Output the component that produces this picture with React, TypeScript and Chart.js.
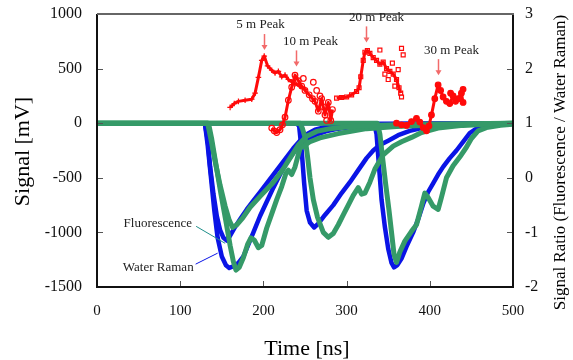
import React, { useEffect, useRef } from 'react';
import { Chart, registerables } from 'chart.js';

Chart.register(...registerables);

const FONT = '"Liberation Serif", "Times New Roman", serif';
const BLUE = '#0a14e6';
const GREEN = '#359a68';
const RED = '#ff0a0a';

const xTicks = [0, 100, 200, 300, 400, 500];
const yTicks = [-1500, -1000, -500, 0, 500, 1000];
const y2Ticks = [-2, -1, 0, 1, 2, 3];

// Water Raman signals [time ns, mV]
const raman5m = [[0, 0], [128, 0], [130, -20], [133, -150], [136, -400], [140, -650], [144, -850], [148, -980], [152, -1050], [156, -1075], [160, -1030], [166, -950], [172, -880], [180, -790], [188, -710], [196, -630], [204, -550], [212, -470], [220, -390], [228, -310], [236, -230], [244, -160], [252, -100], [262, -60], [275, -35], [290, -20], [310, -10], [340, -5], [500, 0]];
const raman10m = [[0, 0], [128, 0], [130, -20], [133, -200], [137, -500], [141, -800], [145, -1050], [150, -1220], [155, -1300], [159, -1325], [164, -1310], [170, -1280], [176, -1220], [182, -1110], [188, -1000], [196, -850], [204, -720], [212, -590], [220, -470], [228, -360], [236, -270], [244, -200], [252, -150], [262, -110], [275, -75], [290, -50], [310, -30], [340, -15], [380, -5], [500, 0]];
const raman20m = [[0, 0], [240, 0], [243, -30], [246, -250], [249, -550], [252, -800], [256, -910], [261, -955], [266, -920], [274, -840], [284, -750], [294, -640], [304, -540], [314, -430], [324, -320], [332, -250], [340, -200], [350, -160], [362, -110], [376, -70], [390, -45], [420, -20], [460, -8], [500, 0]];
const raman30m = [[0, 0], [333, 0], [336, -100], [339, -400], [342, -700], [346, -950], [350, -1150], [354, -1280], [357, -1320], [361, -1300], [366, -1240], [372, -1130], [380, -1000], [386, -880], [392, -740], [398, -630], [404, -550], [410, -470], [416, -400], [424, -320], [432, -250], [440, -170], [448, -90], [456, -50], [464, -35], [480, -15], [500, -5]];

// Fluorescence signals [time ns, mV]
const fluo5m = [[0, 0], [133, 0], [137, -150], [142, -350], [148, -570], [154, -760], [159, -890], [163, -955], [168, -930], [175, -870], [184, -770], [196, -670], [211, -550], [222, -440], [232, -320], [242, -200], [252, -120], [264, -75], [280, -50], [300, -35], [330, -20], [380, -10], [500, 0]];
const fluo10m = [[0, 0], [134, 0], [138, -150], [143, -380], [149, -650], [155, -900], [160, -1120], [164, -1270], [167, -1345], [171, -1320], [176, -1230], [181, -1110], [185, -1050], [189, -1070], [194, -1140], [198, -1120], [204, -960], [210, -830], [216, -700], [222, -580], [227, -460], [230, -430], [234, -470], [238, -400], [244, -230], [256, -170], [268, -135], [290, -95], [324, -50], [360, -30], [420, -12], [500, 0]];
const fluo20m = [[0, 0], [244, 0], [247, -50], [250, -130], [253, -300], [256, -500], [260, -700], [265, -860], [272, -1000], [278, -1045], [284, -1010], [290, -930], [296, -840], [302, -750], [308, -660], [314, -590], [318, -650], [322, -640], [328, -540], [334, -420], [344, -290], [356, -210], [366, -170], [378, -130], [390, -85], [410, -45], [440, -20], [480, -5], [500, 0]];
const fluo30m = [[0, 0], [337, 0], [340, -100], [343, -300], [347, -560], [351, -800], [354, -1000], [357, -1200], [360, -1275], [364, -1180], [370, -1080], [378, -990], [384, -930], [390, -760], [394, -640], [398, -680], [404, -760], [410, -790], [414, -680], [420, -500], [428, -390], [436, -310], [444, -220], [450, -140], [458, -70], [468, -40], [485, -20], [500, -10]];

// Signal ratio (Fluorescence / Water Raman) [time ns, ratio]
const ratio5m = [[160, 1.29], [165, 1.36], [170, 1.4], [178, 1.42], [186, 1.44], [190, 1.55], [194, 1.84], [198, 2.15], [201, 2.23], [205, 2.05], [210, 1.97], [214, 1.92], [218, 1.95], [222, 1.85], [226, 1.88], [230, 1.8], [234, 1.76], [238, 1.72], [244, 1.68], [250, 1.62]];
const ratio10m = [[210, 0.91], [213, 0.86], [216, 0.83], [220, 0.88], [223, 0.97], [226, 1.11], [230, 1.42], [234, 1.66], [238, 1.88], [242, 1.78], [246, 1.68], [250, 1.6], [255, 1.52], [259, 1.45], [262, 1.4], [266, 1.22], [270, 1.45], [274, 1.15], [278, 1.38], [281, 1.05], [283, 1.25]];
const ratio10mExtra = [[248, 1.82], [260, 1.75], [268, 1.5], [276, 1.05], [272, 1.3], [264, 1.6]];
const ratio20m = [[288, 1.46], [294, 1.47], [300, 1.48], [306, 1.52], [312, 1.58], [315, 1.65], [317, 1.85], [320, 2.15], [322, 2.3], [325, 2.33], [328, 2.28], [332, 2.2], [336, 2.15], [340, 2.08], [344, 2.12], [348, 2.0], [352, 1.95], [356, 1.9], [360, 1.8], [363, 1.65], [365, 1.55]];
const ratio20mExtra = [[340, 2.34], [366, 2.37], [368, 2.25], [366, 1.48], [358, 1.68], [350, 1.8], [346, 1.9], [362, 1.98], [355, 2.1]];
const ratio30m = [[360, 1.0], [366, 0.97], [372, 0.96], [378, 1.03], [384, 1.09], [388, 1.02], [392, 0.92], [396, 0.86], [399, 0.95], [402, 1.15], [406, 1.45], [410, 1.7], [413, 1.6], [416, 1.48], [420, 1.4], [424, 1.36], [428, 1.5], [431, 1.4], [434, 1.45], [438, 1.55], [440, 1.38]];
const ratio30mExtra = [[440, 1.62], [425, 1.55]];

// Peak annotations
const peakLabels = ['5 m Peak', '10 m Peak', '20 m Peak', '30 m Peak'];
const peakTimes = [201, 239, 323, 410];
const peakRatios = [2.34, 2.04, 2.48, 1.88];

const calloutLabels = ['Fluorescence', 'Water Raman'];
const calloutTimes = [154, 145];
const calloutSignals = [-1100, -1190];

const toPts = (arr: number[][]) => arr.map(([x, y]) => ({ x, y }));

const sig = (arr: number[][], color: string, order: number, width: number) => ({
  data: toPts(arr),
  yAxisID: 'y',
  showLine: true,
  borderColor: color,
  backgroundColor: color,
  borderWidth: width,
  pointRadius: 0,
  borderJoinStyle: 'round',
  borderCapStyle: 'round',
  order,
});

const rat = (arr: number[][], style: string, filled: boolean, line: boolean) => ({
  data: toPts(arr),
  yAxisID: 'y2',
  showLine: line,
  borderColor: RED,
  backgroundColor: filled ? RED : 'rgba(255,255,255,0)',
  borderWidth: 3,
  pointStyle: style,
  pointRadius: 2.8,
  pointBorderColor: RED,
  pointBackgroundColor: filled ? RED : 'rgba(255,255,255,0)',
  pointBorderWidth: 1.2,
  borderJoinStyle: 'round',
  order: 0,
});

const zeroPad = (s: any) => {
  s.paddingTop = 0;
  s.paddingBottom = 0;
  s.paddingLeft = 0;
  s.paddingRight = 0;
};

const overlay = {
  id: 'overlay',
  afterDraw(chart: any) {
    const { ctx, chartArea: a, scales } = chart;
    const sx = scales.x, sy = scales.y, sy2 = scales.y2;
    ctx.save();
    const seg = (x1: number, y1: number, x2: number, y2: number) => {
      ctx.beginPath(); ctx.moveTo(x1, y1); ctx.lineTo(x2, y2); ctx.stroke();
    };
    // inside tick marks
    ctx.strokeStyle = '#555';
    ctx.lineWidth = 1;
    xTicks.forEach((v) => { const p = Math.round(sx.getPixelForValue(v)) + 0.5; seg(p, a.bottom, p, a.bottom - 6); });
    yTicks.forEach((v) => { const p = Math.round(sy.getPixelForValue(v)) + 0.5; seg(a.left, p, a.left + 6, p); });
    y2Ticks.forEach((v) => { const p = Math.round(sy2.getPixelForValue(v)) + 0.5; seg(a.right, p, a.right - 6, p); });
    // frame
    ctx.strokeStyle = '#111';
    ctx.lineWidth = 2;
    seg(a.left, a.top, a.left, a.bottom + 1);
    seg(a.left - 1, a.bottom, a.right + 1, a.bottom);
    seg(a.right, a.top, a.right, a.bottom);
    ctx.strokeStyle = '#666';
    seg(a.left, a.top, a.right + 1, a.top);

    // axis titles
    ctx.fillStyle = '#000';
    ctx.textAlign = 'center';
    ctx.textBaseline = 'middle';
    ctx.font = `22px ${FONT}`;
    ctx.fillText('Time [ns]', (a.left + a.right) / 2 + 2, 349);
    ctx.save();
    ctx.translate(23, (a.top + a.bottom) / 2 + 1);
    ctx.rotate(-Math.PI / 2);
    ctx.fillText('Signal [mV]', 0, 0);
    ctx.restore();
    ctx.save();
    ctx.font = `17px ${FONT}`;
    ctx.translate(561, (a.top + a.bottom) / 2 + 12);
    ctx.rotate(-Math.PI / 2);
    ctx.fillText('Signal Ratio (Fluorescence / Water Raman)', 0, 0);
    ctx.restore();

    // peak annotations
    const dxs = [-4, 14, 10, 13];
    ctx.font = `13px ${FONT}`;
    peakLabels.forEach((label, i) => {
      const px = Math.round(sx.getPixelForValue(peakTimes[i])) + 0.5;
      const py = sy2.getPixelForValue(peakRatios[i]);
      ctx.strokeStyle = '#f26a6a';
      ctx.fillStyle = '#f26a6a';
      ctx.lineWidth = 1.5;
      seg(px, py - 16, px, py - 4);
      ctx.beginPath();
      ctx.moveTo(px - 3, py - 5);
      ctx.lineTo(px + 3, py - 5);
      ctx.lineTo(px, py);
      ctx.closePath();
      ctx.fill();
      ctx.fillStyle = '#222';
      ctx.textAlign = 'center';
      ctx.fillText(label, px + dxs[i], py - 25);
    });

    // series callouts
    const calloutColors = ['#1f8f8a', BLUE];
    const textOffX = [-33, -24];
    const textOffY = [-20, 14];
    const lineStartX = [-29, -22];
    const lineStartY = [-17, 11];
    calloutLabels.forEach((label, i) => {
      const px = sx.getPixelForValue(calloutTimes[i]);
      const py = sy.getPixelForValue(calloutSignals[i]);
      ctx.strokeStyle = calloutColors[i];
      ctx.lineWidth = 1;
      seg(px + lineStartX[i], py + lineStartY[i], px, py);
      ctx.fillStyle = '#222';
      ctx.textAlign = 'right';
      ctx.fillText(label, px + textOffX[i], py + textOffY[i]);
    });
    ctx.restore();
  },
};

export default function App() {
  const ref = useRef<HTMLCanvasElement>(null);
  useEffect(() => {
    const canvas = ref.current;
    if (!canvas) return;
    const tickFont = { family: FONT, size: 15 };
    const plain = (v: any) => String(v);
    const chart = new Chart(canvas, {
      type: 'scatter',
      data: {
        datasets: [
          rat(ratio5m, 'cross', false, true),
          rat(ratio10m, 'circle', false, true),
          rat(ratio10mExtra, 'circle', false, false),
          rat(ratio20m, 'rect', false, true),
          rat(ratio20mExtra, 'rect', false, false),
          rat(ratio30m, 'circle', true, true),
          rat(ratio30mExtra, 'circle', true, false),
          sig(fluo5m, GREEN, 1, 5),
          sig(fluo10m, GREEN, 1, 5),
          sig(fluo20m, GREEN, 1, 5),
          sig(fluo30m, GREEN, 1, 5),
          sig(raman5m, BLUE, 2, 4.5),
          sig(raman10m, BLUE, 2, 4.5),
          sig(raman20m, BLUE, 2, 4.5),
          sig(raman30m, BLUE, 2, 4.5),
        ] as any,
      },
      plugins: [overlay],
      options: {
        animation: false,
        responsive: false,
        devicePixelRatio: 1,
        layout: { padding: { top: 14, left: 0, right: 0, bottom: 0 } },
        plugins: { legend: { display: false }, tooltip: { enabled: false } },
        scales: {
          x: {
            type: 'linear',
            min: 0,
            max: 500,
            afterBuildTicks: (s: any) => { s.ticks = xTicks.map((v) => ({ value: v })); },
            afterFit: (s: any) => { s.height = 73; zeroPad(s); },
            grid: { display: false, drawTicks: false },
            border: { display: false },
            ticks: { font: tickFont, color: '#111', padding: 15, maxRotation: 0, callback: plain },
          },
          y: {
            type: 'linear',
            position: 'left',
            min: -1500,
            max: 1000,
            afterBuildTicks: (s: any) => { s.ticks = yTicks.map((v) => ({ value: v })); },
            afterFit: (s: any) => { s.width = 97; zeroPad(s); },
            grid: { display: false, drawTicks: false },
            border: { display: false },
            ticks: { font: { family: FONT, size: 16 }, color: '#111', padding: 15, callback: plain },
          },
          y2: {
            type: 'linear',
            position: 'right',
            min: -2,
            max: 3,
            afterBuildTicks: (s: any) => { s.ticks = y2Ticks.map((v) => ({ value: v })); },
            afterFit: (s: any) => { s.width = 60; zeroPad(s); },
            grid: { display: false, drawTicks: false },
            border: { display: false },
            ticks: { font: { family: FONT, size: 16 }, color: '#111', padding: 12, callback: plain },
          },
        },
      } as any,
    });
    return () => chart.destroy();
  }, []);
  return (
    <div style={{ position: 'absolute', left: 0, top: 0, width: 573, height: 360, background: '#fff' }}>
      <canvas ref={ref} width={573} height={360} style={{ display: 'block' }} />
    </div>
  );
}
